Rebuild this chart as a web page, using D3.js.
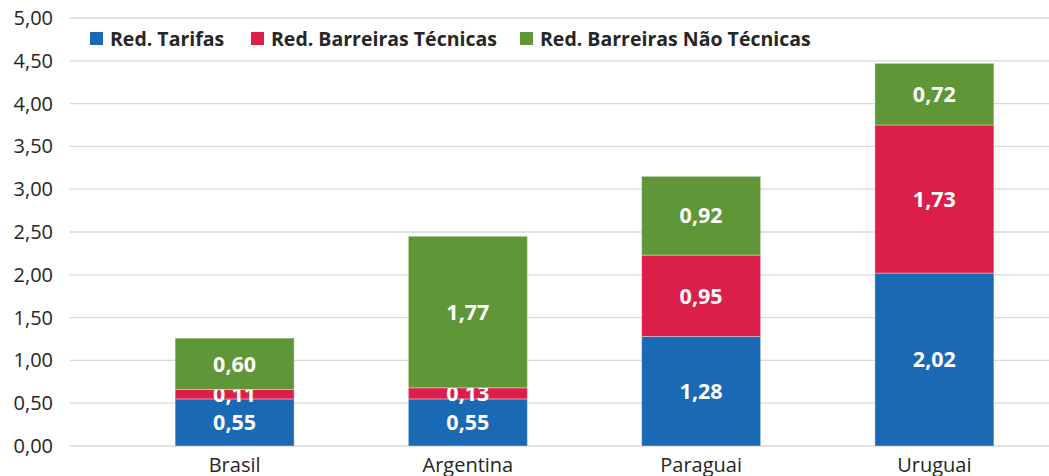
<!DOCTYPE html>
<html>
<head>
<meta charset="utf-8">
<script src="https://cdn.jsdelivr.net/npm/d3@7"></script>
<style>
  body { margin: 0; background: #fff; }
  svg { display: block; font-family: "Open Sans", "Noto Sans", sans-serif; }
</style>
</head>
<body>
<script>
// categories and series
var countries = ["Brasil", "Argentina", "Paraguai", "Uruguai"];
var seriesNames = ["Red. Tarifas", "Red. Barreiras Técnicas", "Red. Barreiras Não Técnicas"];
var tarifas = [0.55, 0.55, 1.28, 2.02];
var tecnicas = [0.11, 0.13, 0.95, 1.73];
var naoTecnicas = [0.60, 1.77, 0.92, 0.72];
var yTicks = [0, 0.5, 1, 1.5, 2, 2.5, 3, 3.5, 4, 4.5, 5];

var colors = ["#1a69b5", "#dc1f4a", "#5f9637"];

var width = 1049, height = 476;

var svg = d3.select("body").append("svg")
    .attr("width", width)
    .attr("height", height);

var x = d3.scaleBand().domain(countries).range([118, 1051]).paddingInner(0.49).paddingOuter(0.245);
var y = d3.scaleLinear().domain([0, 5]).range([446, 18]);

var fmt = function (v) { return d3.format(".2f")(v).replace(".", ","); };

// gridlines
svg.append("g")
  .selectAll("line")
  .data(yTicks)
  .join("line")
    .attr("x1", 70)
    .attr("x2", width)
    .attr("y1", function (d) { return y(d); })
    .attr("y2", function (d) { return y(d); })
    .style("stroke", "#d9d9d9")
    .style("stroke-width", 1.3);

// y axis labels
var gY = svg.append("g")
    .attr("transform", "translate(55,0)")
    .call(d3.axisLeft(y).tickValues(yTicks).tickFormat(fmt).tickSize(0).tickPadding(2));
gY.select(".domain").remove();
gY.selectAll("text")
    .style("font-size", "20px")
    .style("fill", "#262626")
    .style("font-family", "'Open Sans', sans-serif");

// stack data
var rows = countries.map(function (c, i) {
  return { country: c, s0: tarifas[i], s1: tecnicas[i], s2: naoTecnicas[i] };
});
var stack = d3.stack().keys(["s0", "s1", "s2"]);
var layers = stack(rows);

var layerG = svg.selectAll(".layer")
  .data(layers)
  .join("g")
    .attr("class", "layer")
    .style("fill", function (d, i) { return colors[i]; });

layerG.selectAll("rect")
  .data(function (d) { return d; })
  .join("rect")
    .attr("x", function (d) { return x(d.data.country); })
    .attr("width", x.bandwidth())
    .attr("y", function (d) { return y(d[1]); })
    .attr("height", function (d) { return y(d[0]) - y(d[1]); })
    .style("stroke", "rgba(255,255,255,0.35)")
    .style("stroke-width", 1);

// value labels
layerG.selectAll("text")
  .data(function (d) { return d; })
  .join("text")
    .attr("x", function (d) { return x(d.data.country) + x.bandwidth() / 2; })
    .attr("y", function (d) { return (y(d[0]) + y(d[1])) / 2; })
    .attr("dy", "0.36em")
    .attr("text-anchor", "middle")
    .style("fill", "#fff")
    .style("font-size", "21.5px")
    .style("font-weight", "bold")
    .text(function (d) { return fmt(d[1] - d[0]); });

// x axis labels
svg.append("g")
  .selectAll("text")
  .data(countries)
  .join("text")
    .attr("x", function (d) { return x(d) + x.bandwidth() / 2; })
    .attr("y", 472)
    .attr("text-anchor", "middle")
    .style("font-size", "20px")
    .style("fill", "#262626")
    .text(function (d) { return d; });

// legend
var legendX = [90, 251, 520];
var legend = svg.append("g")
  .selectAll("g")
  .data(seriesNames)
  .join("g")
    .attr("transform", function (d, i) { return "translate(" + legendX[i] + ",32)"; });

legend.append("rect")
    .attr("width", 13)
    .attr("height", 13)
    .style("fill", function (d, i) { return colors[i]; });

legend.append("text")
    .attr("x", 20)
    .attr("y", 14)
    .style("font-size", "19.5px")
    .style("font-weight", "bold")
    .style("fill", "#262626")
    .text(function (d) { return d; });
</script>
</body>
</html>
